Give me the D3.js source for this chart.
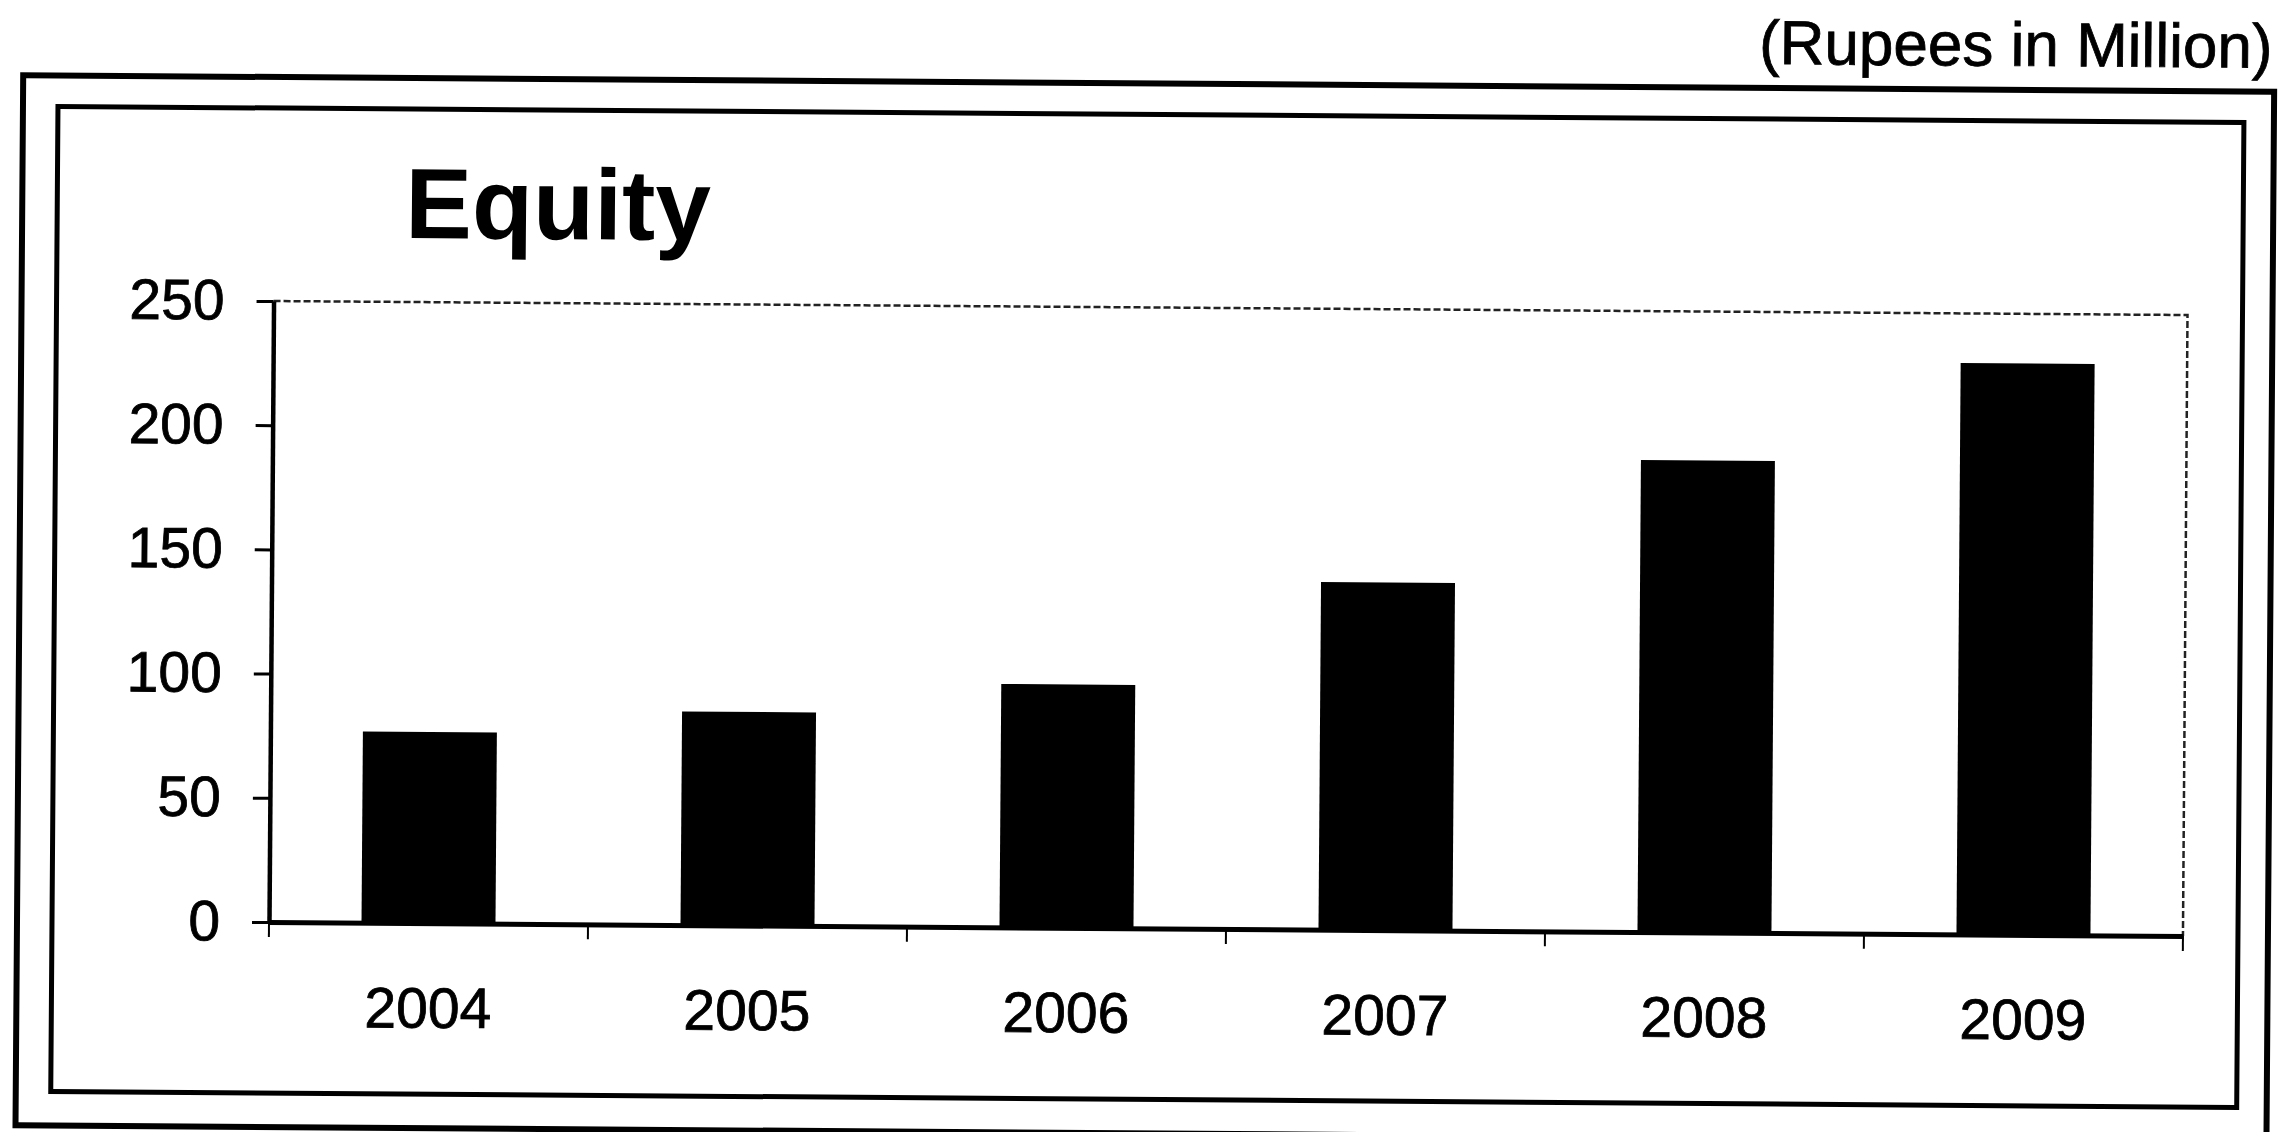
<!DOCTYPE html>
<html>
<head>
<meta charset="utf-8">
<script src="https://cdn.jsdelivr.net/npm/d3@7"></script>
<style>
  body { margin: 0; background: #fff; }
  svg { display: block; font-family: 'Liberation Sans', Arial, sans-serif; }
  .y-axis text, .x-axis text { fill: #000; stroke: #000; stroke-width: 0.8px; }
</style>
</head>
<body>
<div id="wrapper"></div>
<script>
// data
const years = ['2004', '2005', '2006', '2007', '2008', '2009']
const equity = [77, 86, 98, 140, 190, 230]
const yTicks = [0, 50, 100, 150, 200, 250]

function drawBars() {
  // 1. dimensions
  const dimensions = {
    width: 2289,
    height: 1132,
    margin: { top: 301, left: 269 },
    boundedWidth: 1914,
    boundedHeight: 621,
  }

  // 2. canvas (scan is tilted slightly clockwise)
  const svg = d3
    .select('#wrapper')
    .append('svg')
    .attr('width', dimensions.width)
    .attr('height', dimensions.height)

  svg.append('rect')
    .attr('width', dimensions.width)
    .attr('height', dimensions.height)
    .attr('fill', '#fff')

  const pivotX = dimensions.margin.left
  const pivotY = dimensions.margin.top + dimensions.boundedHeight
  const page = svg
    .append('g')
    .attr('transform', `rotate(0.42, ${pivotX}, ${pivotY})`)

  // frames
  page.append('rect')
    .attr('x', 17).attr('y', 77)
    .attr('width', 2251).attr('height', 1050)
    .attr('fill', 'none').attr('stroke', '#000').attr('stroke-width', 6)
  page.append('rect')
    .attr('x', 52).attr('y', 108)
    .attr('width', 2186).attr('height', 985)
    .attr('fill', 'none').attr('stroke', '#000').attr('stroke-width', 5)

  page.append('text')
    .attr('x', 2266).attr('y', 53)
    .attr('text-anchor', 'end')
    .style('font-size', '62px')
    .style('stroke', '#000')
    .style('stroke-width', '0.8px')
    .text('(Rupees in Million)')

  page.append('text')
    .attr('x', 400).attr('y', 237)
    .style('font-size', '100px')
    .style('font-weight', 'bold')
    .text('Equity')

  const bounds = page
    .append('g')
    .attr('transform', `translate(${dimensions.margin.left}, ${dimensions.margin.top})`)

  // 3. scales
  const xScale = d3
    .scaleBand()
    .domain(years)
    .range([0, dimensions.boundedWidth])
    .paddingInner(0.58)
    .paddingOuter(0.29)

  const yScale = d3
    .scaleLinear()
    .domain([0, 250])
    .range([dimensions.boundedHeight, 0])

  // plot area border (top & right, dotted)
  bounds.append('path')
    .attr('d', `M0,${yScale(250)}H${dimensions.boundedWidth}V${yScale(0)}`)
    .attr('fill', 'none')
    .attr('stroke', '#222')
    .attr('stroke-width', 2.5)
    .attr('stroke-dasharray', '7,3')

  // 4. bars
  bounds
    .selectAll('.bar')
    .data(years)
    .join('rect')
    .attr('class', 'bar')
    .attr('x', (d) => xScale(d))
    .attr('width', xScale.bandwidth())
    .attr('y', (d, i) => yScale(equity[i]))
    .attr('height', (d, i) => yScale(0) - yScale(equity[i]))
    .attr('fill', '#000')

  // 5. axes
  const yAxis = bounds
    .append('g')
    .attr('class', 'y-axis')
    .call(
      d3.axisLeft(yScale)
        .tickValues(yTicks)
        .tickSize(17)
        .tickSizeOuter(0)
        .tickPadding(32)
    )
  yAxis.select('.domain').attr('stroke', '#000').attr('stroke-width', 4.5)
  yAxis.selectAll('.tick line').attr('stroke', '#000').attr('stroke-width', 3)
  yAxis.selectAll('text')
    .style('font-size', '57px')
    .style('font-family', "'Liberation Sans', Arial, sans-serif")

  const xAxis = bounds
    .append('g')
    .attr('class', 'x-axis')
    .attr('transform', `translate(0, ${dimensions.boundedHeight})`)
    .call(d3.axisBottom(xScale).tickSize(0).tickPadding(64).tickSizeOuter(0))
  xAxis.select('.domain').attr('stroke', '#000').attr('stroke-width', 5)
  xAxis.selectAll('text')
    .style('font-size', '57px')
    .style('font-family', "'Liberation Sans', Arial, sans-serif")

  // category boundary ticks
  const gap = (xScale.step() - xScale.bandwidth()) / 2
  const boundaries = years.map((d) => xScale(d) - gap)
  boundaries.push(xScale(years[years.length - 1]) + xScale.bandwidth() + gap)
  xAxis
    .selectAll('.cat-tick')
    .data(boundaries)
    .join('line')
    .attr('class', 'cat-tick')
    .attr('x1', (d) => d).attr('x2', (d) => d)
    .attr('y1', 0).attr('y2', 15)
    .attr('stroke', '#000')
    .attr('stroke-width', 2)
}
drawBars()
</script>
</body>
</html>
